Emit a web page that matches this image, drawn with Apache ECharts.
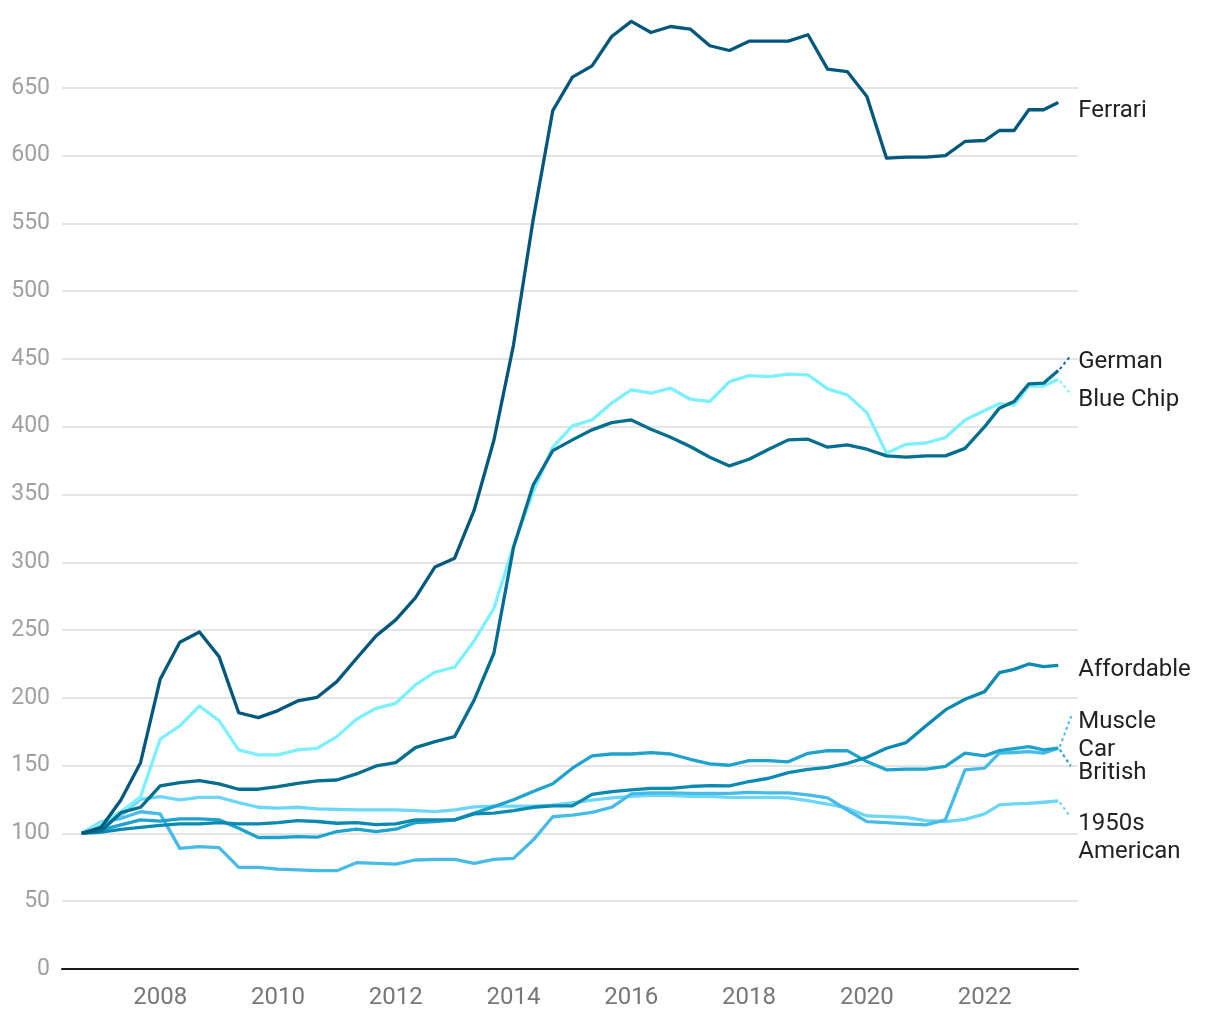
<!DOCTYPE html>
<html>
<head>
<meta charset="utf-8">
<script src="https://cdn.jsdelivr.net/npm/echarts@6/dist/echarts.min.js"></script>
<style>
  html, body { margin: 0; padding: 0; background: #ffffff; }
  #chart { width: 1220px; height: 1020px; }
</style>
</head>
<body>
<div id="chart"></div>
<script>
// Observation dates (every 4 months, then quarterly from 2022)
const dates = ['2006-09','2007-01','2007-05','2007-09','2008-01','2008-05','2008-09','2009-01','2009-05','2009-09',
  '2010-01','2010-05','2010-09','2011-01','2011-05','2011-09','2012-01','2012-05','2012-09','2013-01',
  '2013-05','2013-09','2014-01','2014-05','2014-09','2015-01','2015-05','2015-09','2016-01','2016-05',
  '2016-09','2017-01','2017-05','2017-09','2018-01','2018-05','2018-09','2019-01','2019-05','2019-09',
  '2020-01','2020-05','2020-09','2021-01','2021-05','2021-09','2022-01','2022-04','2022-07','2022-10',
  '2023-01','2023-04'];

const ferrari = [100, 104.5, 124.7, 152.2, 213.7, 241, 248.6, 230.4, 189, 185.4,
  190.6, 197.7, 200.4, 212, 229, 245.7, 257.5, 273.7, 296.6, 303,
  338.6, 390, 460.4, 552.6, 633.2, 657.9, 666.2, 687.8, 699, 690.8,
  695.2, 693.3, 681, 677.5, 684.4, 684.4, 684.4, 689.1, 663.8, 662,
  643.6, 598.1, 598.9, 598.9, 600, 610.4, 611.1, 618.5, 618.5, 633.8,
  633.8, 639.2];

const german = [100, 102, 115.3, 119.3, 135, 137.5, 138.9, 136.5, 132.6, 132.6,
  134.5, 137, 138.7, 139.4, 143.9, 149.8, 152.2, 163.3, 167.7, 171.4,
  198.5, 232.9, 311, 357, 382.4, 390.3, 397.7, 403, 405, 398.2,
  392.3, 385.4, 377.5, 371.1, 376, 383.4, 390.3, 390.8, 384.9, 386.6,
  383.4, 378.5, 377.5, 378.5, 378.5, 384, 400, 413.7, 418.6, 431.6,
  432.1, 441.4];

const blueChip = [100, 108, 116, 127, 169.5, 179.3, 194, 183.2, 161.6, 157.9,
  157.9, 161.6, 162.8, 171.4, 184.2, 192.3, 196, 209.5, 218.9, 222.6,
  242.2, 266, 312, 352, 384.9, 400.6, 405, 417.4, 427.2, 424.7,
  428.4, 420.3, 418.6, 433.3, 437.7, 437, 438.8, 438.2, 427.9, 423.5,
  410.4, 380.5, 387, 388, 392, 405, 412, 417, 416, 430,
  430, 435];

const affordable = [100, 101, 103, 104.5, 106, 107, 107, 108, 107, 107,
  108, 109.5, 108.8, 107.5, 108, 106.5, 107, 110, 110, 110,
  114.4, 115, 116.9, 119.3, 120.3, 120.3, 128.8, 130.9, 132.1, 133.3,
  133.3, 134.6, 135.3, 135.1, 138.3, 140.7, 144.9, 147.3, 148.8, 151.7,
  156.2, 162.8, 167, 179.3, 191.1, 199, 204.6, 218.6, 221, 225,
  223, 224];

const muscleCar = [100, 108.5, 111, 116, 114.4, 89, 90.2, 89.5, 75, 75,
  73.6, 73.1, 72.6, 72.5, 78.4, 77.9, 77.4, 80.4, 80.9, 80.9,
  77.9, 80.9, 81.6, 95.1, 112.3, 113.5, 115.5, 119.3, 129.1, 129.9,
  129.9, 129.5, 129.5, 129.5, 130.3, 129.9, 129.9, 128.5, 126.2, 117.3,
  108.7, 108, 107, 106.3, 110, 146.9, 148.1, 159.2, 159.7, 160.4,
  159.2, 162.9];

const british = [100, 102.6, 106.3, 110, 109, 110.7, 110.7, 110, 103.8, 97,
  97, 97.6, 97.2, 101.4, 103.1, 101.4, 103.1, 108, 108.7, 110,
  115, 119.8, 124.8, 130.9, 136.6, 148.1, 157.2, 158.6, 158.6, 159.6,
  158.6, 154.7, 151.3, 150.3, 153.7, 153.7, 152.8, 159.1, 161, 161.1,
  153, 146.9, 147.4, 147.4, 149.4, 159.2, 157.2, 161.1, 162.6, 164.1,
  161.6, 162.9];

const fifties = [100, 106, 113, 125.2, 127.1, 124.7, 126.6, 126.6, 122.7, 119.3,
  118.6, 119.3, 118.1, 117.8, 117.3, 117.3, 117.3, 116.8, 116.1, 117.3,
  119.6, 120.1, 120.1, 120.1, 120.8, 122.5, 124.5, 126.2, 127.4, 128.1,
  128.1, 127.4, 127.4, 126.6, 126.6, 126.6, 126.2, 124.2, 121.7, 118.6,
  112.9, 112.4, 111.9, 109.5, 108.7, 110.4, 114.4, 121, 121.8, 122.2,
  123, 124];

const xTickLabels = [2008, 2010, 2012, 2014, 2016, 2018, 2020, 2022];

// ---- build ----
function toYear(s) {
  const [y, m] = s.split('-').map(Number);
  return y + (m - 1) / 12;
}
const xs = dates.map(toYear);

const seriesDefs = [
  { name: '1950s American', label: '1950s\nAmerican', values: fifties,     color: '#6cd6f7' },
  { name: 'Muscle Car',     label: 'Muscle\nCar',     values: muscleCar,   color: '#47bbe7' },
  { name: 'British',        label: 'British',         values: british,     color: '#1ea2ce' },
  { name: 'Affordable',     label: 'Affordable',      values: affordable,  color: '#0a8ab3' },
  { name: 'Blue Chip',      label: 'Blue Chip',       values: blueChip,    color: '#7df0fd' },
  { name: 'German',         label: 'German',          values: german,      color: '#046e8f' },
  { name: 'Ferrari',        label: 'Ferrari',         values: ferrari,     color: '#02587a' }
];

// label placement (pixel offsets from the line end)
const labelPlace = {
  'Ferrari':        { dy: 8.5,  lead: null },
  'German':         { dy: -8.5, lead: [12.5, -15] },
  'Blue Chip':      { dy: 21,   lead: [13, 15.5] },
  'Affordable':     { dy: 5,    lead: null },
  'Muscle Car':     { dy: -12,  lead: [13, -32] },
  'British':        { dy: 25,   lead: [12.5, 18] },
  '1950s American': { dy: 37,   lead: [12, 16] }
};

const lineSeries = seriesDefs.map(s => ({
  name: s.name,
  type: 'line',
  data: s.values.map((v, i) => [xs[i], v]),
  showSymbol: false,
  symbol: 'none',
  lineStyle: { color: s.color, width: 3.3, join: 'round' },
  itemStyle: { color: s.color },
  animation: false,
  z: 3
}));

const labelRows = seriesDefs.map((s, i) => [xs[xs.length - 1], s.values[s.values.length - 1], i]);

const labelSeries = {
  type: 'custom',
  coordinateSystem: 'cartesian2d',
  data: labelRows,
  encode: { x: 0, y: 1 },
  clip: false,
  silent: true,
  animation: false,
  z: 10,
  renderItem: function (params, api) {
    const idx = api.value(2);
    const s = seriesDefs[idx];
    const p = api.coord([api.value(0), api.value(1)]);
    const lay = labelPlace[s.name];
    const children = [];
    if (lay.lead) {
      children.push({
        type: 'line',
        shape: { x1: p[0] + 1.5, y1: p[1] + (lay.lead[1] > 0 ? 1.5 : -1.5), x2: p[0] + lay.lead[0], y2: p[1] + lay.lead[1] },
        style: { stroke: s.color, lineWidth: 2, lineDash: [3, 3], fill: null }
      });
    }
    children.push({
      type: 'text',
      x: p[0] + 20,
      y: p[1] + lay.dy,
      style: {
        text: s.label,
        fill: '#222222',
        fontSize: 24,
        fontFamily: 'Roboto',
        align: 'left',
        verticalAlign: 'middle',
        lineHeight: 28.5
      }
    });
    return { type: 'group', children: children };
  }
};

const chart = echarts.init(document.getElementById('chart'), null, { renderer: 'canvas' });
chart.setOption({
  backgroundColor: '#ffffff',
  animation: false,
  textStyle: { fontFamily: 'Roboto' },
  grid: { left: 62, right: 142, top: 20, bottom: 51, containLabel: false, outerBoundsMode: 'none' },
  xAxis: {
    type: 'value',
    min: 2006.333,
    max: 2023.585,
    axisLine: { show: true, onZero: false, lineStyle: { color: '#1a1a1a', width: 2 } },
    axisTick: { show: false },
    splitLine: { show: false },
    axisLabel: {
      customValues: xTickLabels,
      formatter: v => String(v),
      color: '#777777',
      fontSize: 24,
      fontFamily: 'Roboto',
      margin: 17
    }
  },
  yAxis: {
    type: 'value',
    min: 0,
    max: 700,
    interval: 50,
    axisLine: { show: false },
    axisTick: { show: false },
    splitLine: { show: true, showMinLine: false, showMaxLine: false, lineStyle: { color: '#e4e4e4', width: 2 } },
    axisLabel: {
      showMaxLabel: false,
      color: '#a0a0a0',
      fontSize: 23,
      fontFamily: 'Roboto',
      margin: 12
    }
  },
  series: lineSeries.concat([labelSeries])
});
</script>
</body>
</html>
